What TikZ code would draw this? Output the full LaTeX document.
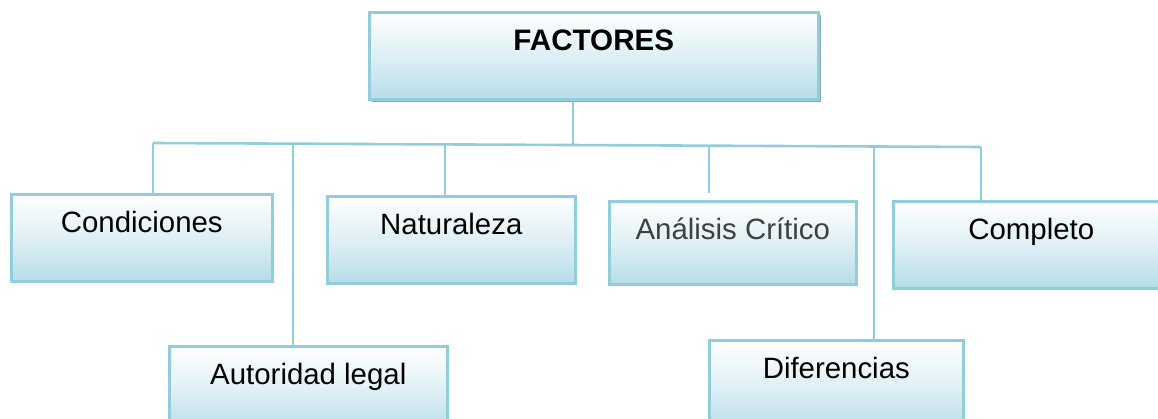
\documentclass[tikz,border=0pt]{standalone}
\usepackage{fontspec}
\setmainfont{Liberation Sans}
\usetikzlibrary{shadows}
\definecolor{edge}{RGB}{146,205,220}
\definecolor{fillb}{RGB}{182,221,232}
\definecolor{shad}{RGB}{140,168,178}
\definecolor{greytxt}{RGB}{64,64,64}
\tikzset{
  boxnode/.style={rectangle, draw=edge, line width=2.6pt, inner sep=0pt,
    anchor=north west, top color=white, bottom color=fillb, middle color=fillb!45,
    text height=38pt, font=\fontsize{29.4}{34}\selectfont},
  link/.style={draw=edge, line width=2.6pt}
}
\begin{document}
\begin{tikzpicture}[x=1pt,y=-1pt]
\useasboundingbox (0,0) rectangle (1158,419);
\clip (0,0) rectangle (1158,419);
% main box
\node[boxnode, minimum width=449pt, text depth=49pt,
  drop shadow={shadow xshift=3pt, shadow yshift=-3pt, fill=shad, opacity=1},
  font=\fontsize{29.6}{34}\selectfont\bfseries] (F) at (368,11) {FACTORES};
% children
\node[boxnode, minimum width=261pt, text depth=49pt] (C) at (10,193) {Condiciones};
\node[boxnode, minimum width=248pt, text depth=49pt] (N) at (326,195) {Naturaleza};
\node[boxnode, minimum width=247pt, text depth=45pt, text=greytxt] (A) at (608,200) {Análisis Crítico};
\node[boxnode, minimum width=276pt, text depth=49pt] (P) at (892,200) {Completo};
\node[boxnode, minimum width=278pt, text depth=50pt] (L) at (168,345) {Autoridad legal};
\node[boxnode, minimum width=254pt, text depth=56pt] (D) at (708,339) {Diferencias};
% bus coordinates
\coordinate (bC) at (153,143);
\coordinate (bL) at (293,143.7);
\coordinate (bN) at (445,144.4);
\coordinate (bF) at (573,145);
\coordinate (bA) at (709,145.6);
\coordinate (bD) at (874,146.5);
\coordinate (bP) at (981,147);
\coordinate (aEnd) at (709,193);
\draw[link] (bC) -- (bP);
\draw[link] (F.south -| bF) -- (bF);
\draw[link] (bC) -- (bC |- C.north);
\draw[link] (bL) -- (bL |- L.north);
\draw[link] (bN) -- (bN |- N.north);
\draw[link] (bA) -- (aEnd);
\draw[link] (bD) -- (bD |- D.north);
\draw[link] (bP) -- (bP |- P.north);
\end{tikzpicture}
\end{document}
